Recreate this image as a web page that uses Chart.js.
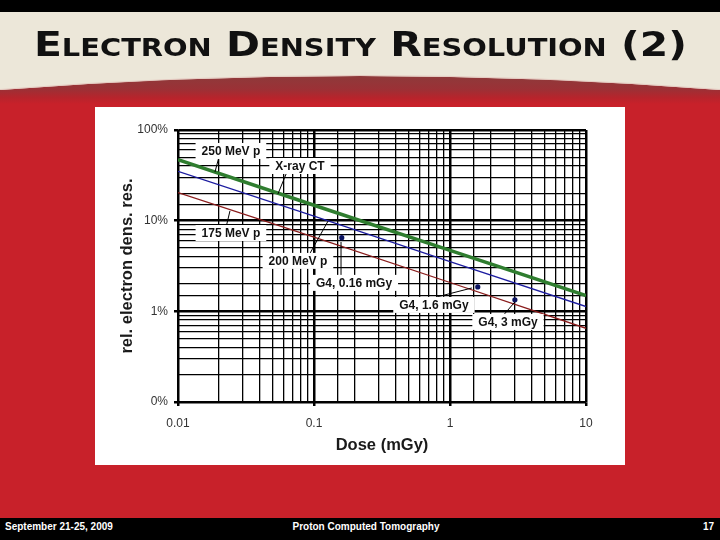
<!DOCTYPE html>
<html>
<head>
<meta charset="utf-8">
<script src="https://cdn.jsdelivr.net/npm/chart.js@4.4.1/dist/chart.umd.min.js"></script>
<style>
  html, body { margin: 0; padding: 0; }
  body { width: 720px; height: 540px; position: relative; overflow: hidden; }
  #bg { position: absolute; left: 0; top: 0; }
  #title { position: absolute; left: 0; top: 27px; width: 720px; text-align: center;
           font-family: "DejaVu Sans", sans-serif; font-weight: bold; font-size: 34px; line-height: 34px;
           font-variant: small-caps; color: #111; white-space: nowrap; }
  #title span { display: inline-block; transform-origin: center; }
  #panel { position: absolute; left: 95px; top: 107px; width: 530px; height: 358px; background: #fff; }
  #footer { position: absolute; left: 0; top: 518px; width: 720px; height: 22px; background: #000;
            color: #fff; font: bold 10px "Liberation Sans", Arial, sans-serif; line-height: 10px; }
  #footer div { position: absolute; top: 4px; white-space: nowrap; }
</style>
</head>
<body>
<canvas id="bg" width="720" height="540"></canvas>
<div id="title"><span>Electron Density Resolution (2)</span></div>
<div id="panel"><canvas id="chart" width="530" height="358"></canvas></div>
<div id="footer">
  <div style="left:5px">September 21-25, 2009</div>
  <div style="left:0; width:732px; text-align:center">Proton Computed Tomography</div>
  <div style="right:6px">17</div>
</div>
<script>
// values
const doseX = [0.01, 0.1, 1, 10];
const xrayCT = [0.47, 0.148, 0.047, 0.0149];
const mev250 = [0.47, 0.148, 0.047, 0.0149];
const mev200 = [0.35, 0.112, 0.0353, 0.0113];
const mev175 = [0.204, 0.066, 0.0208, 0.0065];
const g4Dose = [0.16, 1.6, 3];
const g4Res = [0.065, 0.0186, 0.0134];

const xTickValues = [0.01, 0.1, 1, 10];
const xTickLabels = ['0.01', '0.1', '1', '10'];
const yTickValues = [0.001, 0.01, 0.1, 1];
const yTickLabels = ['0%', '1%', '10%', '100%'];

// callout labels (value coordinates)
const notes = [
  { text: '250 MeV p', x: 0.0245, y: 0.587, from: [0.020, 0.504], to: [0.0187, 0.344] },
  { text: 'X-ray CT', x: 0.0789, y: 0.401, from: [0.0632, 0.344], to: [0.0543, 0.197] },
  { text: '175 MeV p', x: 0.0245, y: 0.0731, from: [0.0225, 0.0831], to: [0.0241, 0.128] },
  { text: '200 MeV p', x: 0.0762, y: 0.036, from: [0.0903, 0.0398], to: [0.127, 0.0993] },
  { text: 'G4, 0.16 mGy', x: 0.197, y: 0.0206, from: [0.158, 0.0239], to: [0.158, 0.0582] },
  { text: 'G4, 1.6 mGy', x: 0.762, y: 0.01177, from: [0.80, 0.0144], to: [1.45, 0.0181] },
  { text: 'G4, 3 mGy', x: 2.67, y: 0.00764, from: [2.41, 0.00867], to: [3.0, 0.0127] }
];

// slide background
const bg = document.getElementById('bg').getContext('2d');
bg.fillStyle = '#ece7d9';
bg.fillRect(0, 0, 720, 540);
bg.fillStyle = '#000';
bg.fillRect(0, 0, 720, 12);
const grad = bg.createLinearGradient(0, 74, 0, 104);
grad.addColorStop(0, '#8c3b3b');
grad.addColorStop(0.5, '#9b3136');
grad.addColorStop(0.78, '#b6242c');
grad.addColorStop(1, '#c8212a');
bg.fillStyle = grad;
bg.beginPath();
bg.moveTo(0, 90);
bg.quadraticCurveTo(360, 62, 720, 90);
bg.lineTo(720, 540);
bg.lineTo(0, 540);
bg.closePath();
bg.fill();
bg.strokeStyle = '#e6cbc2';
bg.lineWidth = 1;
bg.beginPath();
bg.moveTo(0, 89.5);
bg.quadraticCurveTo(360, 61.5, 720, 89.5);
bg.stroke();

// fit title width
const tspan = document.querySelector('#title span');
tspan.style.transform = 'scaleX(' + (653 / tspan.getBoundingClientRect().width) + ')';

const isDecade = v => Math.abs(Math.log10(v) - Math.round(Math.log10(v))) < 1e-6;
function tickText(values, labels) {
  return function (value) {
    const i = values.findIndex(t => Math.abs(Math.log10(t) - Math.log10(value)) < 1e-6);
    return i >= 0 ? labels[i] : '';
  };
}
const gridOpts = {
  color: '#000',
  lineWidth: c => (c.tick && isDecade(c.tick.value)) ? 2.5 : 1.3,
  tickColor: c => (c.tick && isDecade(c.tick.value)) ? '#000' : 'rgba(0,0,0,0)',
  tickLength: 4
};
const fam = '"Liberation Sans", Arial, sans-serif';

const notesPlugin = {
  id: 'notes',
  afterDatasetsDraw(chart) {
    const { ctx, scales: { x, y } } = chart;
    ctx.save();
    ctx.strokeStyle = '#000';
    ctx.lineWidth = 1;
    notes.forEach(n => {
      ctx.beginPath();
      ctx.moveTo(x.getPixelForValue(n.from[0]), y.getPixelForValue(n.from[1]));
      ctx.lineTo(x.getPixelForValue(n.to[0]), y.getPixelForValue(n.to[1]));
      ctx.stroke();
    });
    ctx.font = 'bold 12px ' + fam;
    ctx.textAlign = 'center';
    ctx.textBaseline = 'middle';
    notes.forEach(n => {
      const px = x.getPixelForValue(n.x), py = y.getPixelForValue(n.y);
      const w = ctx.measureText(n.text).width;
      ctx.fillStyle = '#fff';
      ctx.fillRect(px - w / 2 - 6, py - 8, w + 12, 16);
      ctx.fillStyle = '#111';
      ctx.fillText(n.text, px, py + 1);
    });
    ctx.restore();
  }
};

const pts = arr => doseX.map((d, i) => ({ x: d, y: arr[i] }));

new Chart(document.getElementById('chart'), {
  type: 'line',
  data: {
    datasets: [
      { label: 'X-ray CT', data: pts(xrayCT), borderColor: '#2f7d2f', borderWidth: 3.5, pointRadius: 0 },
      { label: '250 MeV p', data: pts(mev250), borderColor: '#0f4a0f', borderWidth: 1.3, borderDash: [3, 2], pointRadius: 0 },
      { label: '200 MeV p', data: pts(mev200), borderColor: '#1c1ca0', borderWidth: 1.3, pointRadius: 0 },
      { label: '175 MeV p', data: pts(mev175), borderColor: '#8a1c1c', borderWidth: 1.3, pointRadius: 0 },
      { label: 'G4', data: g4Dose.map((d, i) => ({ x: d, y: g4Res[i] })), showLine: false,
        pointRadius: 2.6, pointBackgroundColor: '#0a1260', pointBorderColor: '#0a1260', pointBorderWidth: 0 }
    ]
  },
  options: {
    responsive: false,
    animation: false,
    layout: { padding: { top: 23, right: 39, bottom: 0, left: 0 } },
    plugins: { legend: { display: false }, tooltip: { enabled: false } },
    scales: {
      x: {
        type: 'logarithmic', min: 0.01, max: 10,
        afterFit: s => { s.height = 63; },
        grid: gridOpts,
        border: { color: '#000', width: 1.5 },
        ticks: { autoSkip: false, maxRotation: 0, padding: 10, color: '#333',
                 font: { family: fam, size: 12 }, callback: tickText(xTickValues, xTickLabels) },
        title: { display: true, text: 'Dose (mGy)', color: '#1a1a1a',
                 font: { family: fam, size: 16.5, weight: 'bold' }, padding: { top: 0, bottom: 10 } }
      },
      y: {
        type: 'logarithmic', min: 0.001, max: 1,
        afterFit: s => { s.width = 83; },
        grid: gridOpts,
        border: { color: '#000', width: 1.5 },
        ticks: { autoSkip: false, padding: 6, color: '#333',
                 font: { family: fam, size: 12 }, callback: tickText(yTickValues, yTickLabels) },
        title: { display: true, text: 'rel. electron dens. res.', color: '#1a1a1a',
                 font: { family: fam, size: 16.5, weight: 'bold' }, padding: { top: 23, bottom: 0 } }
      }
    }
  },
  plugins: [notesPlugin]
});
</script>
</body>
</html>
